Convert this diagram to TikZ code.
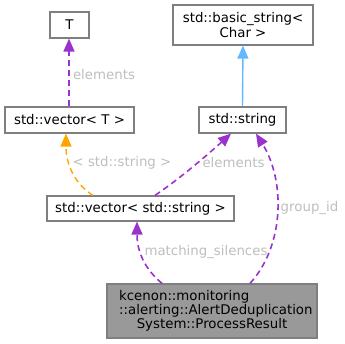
\documentclass[tikz,border=0pt]{standalone}
\usepackage{fontspec}
\setmainfont{DejaVu Sans}
\usetikzlibrary{arrows.meta}
\definecolor{boxline}{HTML}{7F7F7F}
\definecolor{mainfill}{HTML}{999999}
\definecolor{orchid}{HTML}{9A32CD}
\definecolor{inherit}{HTML}{63B8FF}
\definecolor{tmpl}{HTML}{FFA500}
\definecolor{lbl}{HTML}{BEBEBE}
\begin{document}
\begin{tikzpicture}[x=1bp,y=-1bp,
  font=\fontsize{13.33bp}{15bp}\selectfont,
  cls/.style={draw=boxline,line width=1.2bp,fill=white,inner sep=0pt},
  member/.style={color=orchid,line width=1.6bp,dash pattern=on 6bp off 4bp,
    -{Triangle[length=13bp,width=11bp]}},
  tmplarg/.style={color=tmpl,line width=1.4bp,dash pattern=on 6bp off 4bp,
    -{Triangle[length=13bp,width=11bp]}},
  derive/.style={color=inherit,line width=1.4bp,
    -{Triangle[length=13bp,width=11bp]}},
  elabel/.style={text=lbl,inner sep=0pt}]
\useasboundingbox (0,0) rectangle (345,344);

% classes
\node[cls,minimum width=39bp,minimum height=26bp] (T) at (69.5,25) {T};
\node[cls,minimum width=140bp,minimum height=40bp,align=center] (bs) at (243,25)
  {std::basic\_string<\\Char >};
\node[cls,minimum width=129bp,minimum height=26bp] (vt) at (69.5,120) {std::vector< T >};
\node[cls,minimum width=87bp,minimum height=26bp] (str) at (242.5,120) {std::string};
\node[cls,minimum width=187bp,minimum height=25bp] (vs) at (140.5,208.5)
  {std::vector< std::string >};
\node[cls,fill=mainfill,minimum width=210bp,minimum height=54bp] (pr) at (212,311) {};
\node[anchor=west,inner sep=0pt] (pr1) at (119,297) {kcenon::monitoring};
\node[anchor=west,inner sep=0pt] (pr2) at (119,311) {::alerting::AlertDeduplication};
\node[inner sep=0pt] (pr3) at (212,325) {System::ProcessResult};

% relations
\draw[member] ([xshift=-0.5bp]vt.north) -- ([xshift=-0.5bp]T.south);
\draw[derive] (str.north) -- (bs.south);
\draw[tmplarg] (vs.north -| 93,0) .. controls (75,184) and (66,165) .. (vt.south -| 66,0);
\draw[member] (vs.north -| 155,0) .. controls (185,175) and (215,148) .. (str.south -| 231,0);
\draw[member] (pr.north -| 250,0) .. controls (285,245) and (285,180) .. (str.south -| 256,0);
\draw[member] (pr.north -| 162,0) .. controls (140,265) and (137,245) .. (vs.south -| 137,0);

% edge labels
\node[elabel] (l1) at (104,75) {elements};
\node[elabel] (l2) at (122,163) {< std::string >};
\node[elabel] (l3) at (233.5,163) {elements};
\node[elabel] (l4) at (309.5,208) {group\_id};
\node[elabel] (l5) at (206,252) {matching\_silences};
\end{tikzpicture}
\end{document}
